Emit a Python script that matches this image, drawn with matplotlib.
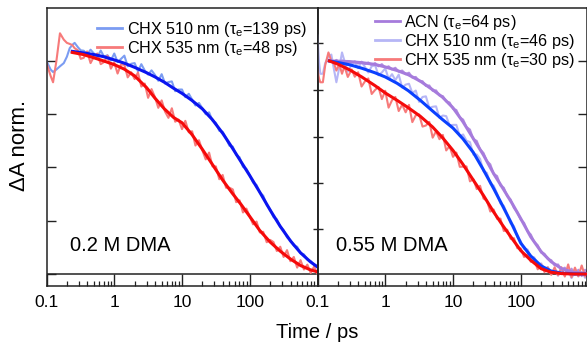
import numpy as np
import matplotlib
matplotlib.use("Agg")
import matplotlib.pyplot as plt
from matplotlib.ticker import FixedLocator, NullFormatter

plt.rcParams['font.family'] = ['Liberation Sans', 'DejaVu Sans']
plt.rcParams['mathtext.default'] = 'regular'

# ---------------- data ----------------
t_raw_L = [0.10, 0.115, 0.125, 0.14, 0.158, 0.18, 0.20, 0.22, 0.24, 0.26, 0.29, 0.32,
           0.355, 0.398, 0.447, 0.501, 0.562, 0.631, 0.708, 0.794, 0.891, 1.0,
           1.12, 1.26, 1.41, 1.58, 1.78, 2.0, 2.24, 2.51, 2.82, 3.16,
           3.55, 3.98, 4.47, 5.01, 5.62, 6.31, 7.08, 7.94, 8.91, 10.0,
           11.2, 12.6, 14.1, 15.8, 17.8, 20.0, 22.4, 25.1, 28.2, 31.6,
           35.5, 39.8, 44.7, 50.1, 56.2, 63.1, 70.8, 79.4, 89.1, 100,
           112, 126, 141, 158, 178, 200, 224, 251, 282, 316,
           355, 398, 447, 501, 562, 631, 708, 794, 891, 1000]
t_raw_R = [0.10, 0.105, 0.11, 0.12, 0.13, 0.145, 0.16, 0.175, 0.19, 0.21, 0.23, 0.25, 0.28, 0.32,
           0.355, 0.398, 0.447, 0.501, 0.562, 0.631, 0.708, 0.794, 0.891, 1.0,
           1.12, 1.26, 1.41, 1.58, 1.78, 2.0, 2.24, 2.51, 2.82, 3.16,
           3.55, 3.98, 4.47, 5.01, 5.62, 6.31, 7.08, 7.94, 8.91, 10.0,
           11.2, 12.6, 14.1, 15.8, 17.8, 20.0, 22.4, 25.1, 28.2, 31.6,
           35.5, 39.8, 44.7, 50.1, 56.2, 63.1, 70.8, 79.4, 89.1, 100,
           112, 126, 141, 158, 178, 200, 224, 251, 282, 316,
           355, 398, 447, 501, 562, 631, 708, 794, 891, 1000]

# 0.2 M DMA raw traces
raw_L_510 = [1.0, 0.96, 0.948, 0.96, 0.975, 0.99, 1.02, 1.06, 1.075, 1.085, 1.065, 1.05,
             1.048, 1.031, 1.053, 1.035, 1.017, 1.049, 1.02, 1.027, 1.002, 1.035,
             0.995, 1.01, 1.025, 0.975, 0.987, 0.99, 0.951, 0.985, 0.955, 0.936,
             0.956, 0.935, 0.907, 0.938, 0.894, 0.901, 0.904, 0.858, 0.866, 0.866,
             0.83, 0.846, 0.819, 0.791, 0.803, 0.778, 0.75, 0.759, 0.72, 0.71,
             0.672, 0.668, 0.637, 0.602, 0.598, 0.559, 0.548, 0.503, 0.494, 0.464,
             0.429, 0.418, 0.382, 0.368, 0.324, 0.304, 0.267, 0.257, 0.223, 0.206,
             0.172, 0.159, 0.133, 0.128, 0.097, 0.092, 0.067, 0.061, 0.042, 0.038]
raw_L_535 = [0.99, 0.93, 0.90, 1.0, 1.13, 1.1, 1.085, 1.08, 1.075, 1.06, 1.05, 1.01,
             1.015, 1.045, 0.99, 1.02, 1.035, 0.985, 0.995, 1.025, 0.964, 0.993,
             0.941, 0.984, 0.982, 0.923, 0.947, 0.915, 0.946, 0.88, 0.894, 0.827,
             0.868, 0.831, 0.78, 0.815, 0.762, 0.733, 0.778, 0.715, 0.725, 0.68,
             0.719, 0.665, 0.67, 0.603, 0.628, 0.58, 0.538, 0.57, 0.505, 0.505,
             0.445, 0.465, 0.405, 0.405, 0.397, 0.337, 0.346, 0.289, 0.307, 0.27,
             0.233, 0.246, 0.195, 0.198, 0.149, 0.16, 0.15, 0.108, 0.128, 0.08,
             0.112, 0.06, 0.08, 0.03, 0.065, 0.021, 0.044, 0.005, 0.035, 0.0]

# 0.55 M DMA raw traces
raw_R_acn = [np.nan, np.nan, np.nan, np.nan, np.nan, 1.0, 1.005, 0.995, 1.005, 0.995, 1.003, 0.992, 1.0, 0.99,
             0.998, 0.988, 0.996, 0.985, 0.993, 0.98, 0.99, 0.975, 0.985, 0.968,
             0.975, 0.96, 0.968, 0.95, 0.955, 0.938, 0.945, 0.922, 0.925, 0.905,
             0.905, 0.883, 0.885, 0.86, 0.862, 0.838, 0.835, 0.81, 0.805, 0.775,
             0.77, 0.735, 0.725, 0.69, 0.678, 0.632, 0.625, 0.585, 0.568, 0.53,
             0.515, 0.47, 0.46, 0.415, 0.405, 0.365, 0.35, 0.31, 0.29, 0.255,
             0.24, 0.2, 0.185, 0.15, 0.135, 0.1, 0.095, 0.07, 0.065, 0.04,
             0.045, 0.02, 0.03, 0.005, 0.025, -0.005, 0.02, -0.01, 0.02, 0.0]
raw_R_510 = [1.12, 1.0, 0.94, 0.94, 0.99, 1.02, 1.03, 0.96, 0.9, 0.97, 1.04, 1.0, 0.95, 0.985,
             0.996, 0.966, 0.996, 0.972, 0.946, 0.975, 0.98, 0.933, 0.946, 0.965,
             0.917, 0.938, 0.91, 0.936, 0.875, 0.889, 0.893, 0.85, 0.861, 0.808,
             0.831, 0.834, 0.78, 0.785, 0.787, 0.733, 0.744, 0.741, 0.698, 0.7,
             0.7, 0.647, 0.655, 0.626, 0.619, 0.56, 0.561, 0.54, 0.482, 0.475,
             0.424, 0.415, 0.378, 0.331, 0.32, 0.28, 0.238, 0.224, 0.175, 0.153,
             0.117, 0.115, 0.08, 0.078, 0.043, 0.05, 0.024, 0.032, 0.002, 0.016,
             -0.008, 0.014, -0.007, 0.017, -0.019, 0.008, -0.012, 0.01, -0.018, 0.005]
raw_R_535 = [0.96, 0.92, 0.9, 0.9, 0.98, 1.04, 1.0, 0.99, 0.955, 0.985, 0.94, 0.975, 0.925, 0.96,
             0.926, 0.947, 0.88, 0.904, 0.918, 0.845, 0.864, 0.878, 0.821, 0.86,
             0.781, 0.816, 0.831, 0.765, 0.795, 0.759, 0.794, 0.713, 0.745, 0.749,
             0.692, 0.697, 0.714, 0.64, 0.67, 0.633, 0.653, 0.58, 0.6, 0.55,
             0.57, 0.503, 0.504, 0.505, 0.435, 0.445, 0.399, 0.414, 0.354, 0.345,
             0.293, 0.303, 0.259, 0.26, 0.202, 0.208, 0.165, 0.168, 0.121, 0.12,
             0.08, 0.092, 0.057, 0.065, 0.022, 0.045, 0.009, 0.031, -0.004, 0.031,
             -0.006, 0.032, -0.012, 0.045, -0.015, 0.03, -0.01, 0.04, -0.012, 0.025]

# fits
t_fit_L = [0.24, 0.35, 0.5, 0.7, 1, 1.4, 2, 3, 4, 5.5, 7.5, 10, 14, 20, 28, 40, 55, 75,
           100, 140, 200, 280, 400, 560, 780, 1000]
fit_L_510 = [1.045, 1.038, 1.03, 1.02, 1.005, 0.99, 0.97, 0.945, 0.925, 0.9, 0.872, 0.848, 0.815,
             0.775, 0.725, 0.66, 0.593, 0.525, 0.462, 0.385, 0.3, 0.225, 0.155, 0.1, 0.058, 0.033]
fit_L_535 = [1.04, 1.03, 1.015, 1.0, 0.983, 0.962, 0.93, 0.875, 0.825, 0.775, 0.735, 0.71, 0.655,
             0.585, 0.515, 0.44, 0.38, 0.325, 0.27, 0.205, 0.15, 0.108, 0.07, 0.04, 0.02, 0.01]
t_fit_R = [0.15, 0.2, 0.3, 0.45, 0.7, 1, 1.5, 2.2, 3.3, 5, 7, 10, 14, 20, 28, 40, 55, 75,
           100, 140, 200, 280, 400, 600, 950]
fit_R_acn = [1.0, 0.999, 0.997, 0.992, 0.984, 0.972, 0.955, 0.935, 0.905, 0.865, 0.83, 0.78, 0.715,
             0.635, 0.56, 0.47, 0.4, 0.33, 0.26, 0.175, 0.105, 0.058, 0.025, 0.008, 0.002]
fit_R_510 = [1.0, 0.993, 0.982, 0.966, 0.945, 0.925, 0.895, 0.86, 0.815, 0.765, 0.725, 0.685, 0.635,
             0.57, 0.49, 0.4, 0.315, 0.23, 0.145, 0.085, 0.038, 0.014, 0.004, 0.001, 0.0]
fit_R_535 = [1.0, 0.985, 0.958, 0.925, 0.885, 0.85, 0.815, 0.78, 0.74, 0.69, 0.64, 0.58, 0.515,
             0.44, 0.37, 0.29, 0.225, 0.165, 0.11, 0.065, 0.025, 0.008, 0.002, 0.0, 0.0]

labels_L = ['CHX 510 nm (τ$_e$=139 ps)', 'CHX 535 nm (τ$_e$=48 ps)']
labels_R = ['ACN (τ$_e$=64 ps)', 'CHX 510 nm (τ$_e$=46 ps)', 'CHX 535 nm (τ$_e$=30 ps)']
panel_titles = ['0.2 M DMA', '0.55 M DMA']
xticks_L = [0.1, 1, 10, 100, 1000]
xticklabels_L = ['0.1', '1', '10', '100', '']
xticks_R = [0.1, 1, 10, 100]
xticklabels_R = ['0.1', '1', '10', '100']

# ---------------- figure ----------------
W, H = 587, 343
fig = plt.figure(figsize=(W / 100, H / 100), dpi=100)

def frac_box(x0, x1, ytop, ybot):
    return [x0 / W, 1 - ybot / H, (x1 - x0) / W, (ybot - ytop) / H]

axL = fig.add_axes(frac_box(46.5, 317.5, 7.5, 286))
axR = fig.add_axes(frac_box(317.5, 587, 7.5, 286))

c_raw_blue = '#7b9cf2'
c_raw_red = '#f77a7a'
c_raw_lav = '#b6b6f6'
c_purple = '#a67bdc'
c_fit_blue_L = '#0a14f0'
c_fit_blue_R = '#0a40ff'
c_fit_red = '#f50a0a'

ylo, yhi = -0.0563, 1.251
spine_c = '#222222'

for ax in (axL, axR):
    ax.set_xscale('log')
    ax.set_ylim(ylo, yhi)
    ax.axhline(0, color=spine_c, lw=1.1, zorder=1)
    for s in ax.spines.values():
        s.set_color(spine_c)
        s.set_linewidth(1.1)
    ax.xaxis.set_minor_locator(FixedLocator(
        [m * 10.0 ** e for e in range(-1, 3) for m in range(2, 10)]))
    ax.xaxis.set_minor_formatter(NullFormatter())
    ax.tick_params(axis='x', which='major', direction='in', length=8.6, width=1.0,
                   color=spine_c, labelsize=12.5, pad=6.5)
    ax.tick_params(axis='x', which='minor', direction='in', length=3.5, width=0.9,
                   color=spine_c)

# left panel
axL.set_xlim(0.1, 1000)
axL.set_xticks(xticks_L)
axL.set_xticklabels(xticklabels_L)
axL.plot(t_raw_L, raw_L_510, color=c_raw_blue, lw=1.5, label=labels_L[0], zorder=2)
axL.plot(t_raw_L, raw_L_535, color=c_raw_red, lw=1.5, label=labels_L[1], zorder=2)
axL.plot(t_fit_L, fit_L_510, color=c_fit_blue_L, lw=2.2, zorder=3)
axL.plot(t_fit_L, fit_L_535, color=c_fit_red, lw=2.2, zorder=3)
axL.set_yticks([0, 0.25, 0.5, 0.75, 1.0])
axL.tick_params(axis='y', which='both', direction='in', length=6.5, width=1.0,
                color=spine_c, labelleft=False, left=True, right=False)
axL.text(0.087, 0.144, panel_titles[0], transform=axL.transAxes, fontsize=14.5,
         ha='left', va='center')
legL = axL.legend(loc='upper left', bbox_to_anchor=(0.188, 0.955), frameon=False,
                  fontsize=11.6, handlelength=1.55, handletextpad=0.3,
                  labelspacing=0.0, borderpad=0, borderaxespad=0)

# right panel
axR.set_xlim(0.1, 950)
axR.set_xticks(xticks_R)
axR.set_xticklabels(xticklabels_R)
axR.plot(t_raw_R, raw_R_acn, color=c_purple, lw=1.5, alpha=0.85, label=labels_R[0], zorder=2)
axR.plot(t_raw_R, raw_R_510, color=c_raw_lav, lw=1.5, label=labels_R[1], zorder=2)
axR.plot(t_raw_R, raw_R_535, color=c_raw_red, lw=1.5, label=labels_R[2], zorder=2)
axR.plot(t_fit_R, fit_R_acn, color=c_purple, lw=2.2, zorder=3)
axR.plot(t_fit_R, fit_R_510, color=c_fit_blue_R, lw=2.2, zorder=3)
axR.plot(t_fit_R, fit_R_535, color=c_fit_red, lw=2.2, zorder=3)
axR.set_yticks([0.25, 0.5, 0.75, 1.0])
axR.tick_params(axis='y', which='both', direction='in', length=6.5, width=1.0,
                color=spine_c, labelleft=False, labelright=False, left=False, right=True)
sec = axR.secondary_yaxis('left')
sec.set_yticks([1.085, 0.864, 0.643, 0.427, 0.211])
sec.tick_params(direction='inout', length=7, width=1.0, color=spine_c, labelleft=False)
sec.spines['left'].set_color(spine_c)
sec.spines['left'].set_linewidth(1.1)
axR.text(0.069, 0.144, panel_titles[1], transform=axR.transAxes, fontsize=14.5,
         ha='left', va='center')
legR = axR.legend(loc='upper left', bbox_to_anchor=(0.212, 0.98), frameon=False,
                  fontsize=11.6, handlelength=1.55, handletextpad=0.3,
                  labelspacing=0.0, borderpad=0, borderaxespad=0)

for leg in (legL, legR):
    for ln in leg.get_lines():
        ln.set_linewidth(2.0)
        ln.set_alpha(1)

fig.text(317 / W, 1 - 332 / H, 'Time / ps', fontsize=14.5, ha='center', va='center')
fig.text(20 / W, 1 - 145 / H, 'ΔA norm.', fontsize=16, ha='center', va='center',
         rotation=90)

fig.savefig('out.png', dpi=100)
